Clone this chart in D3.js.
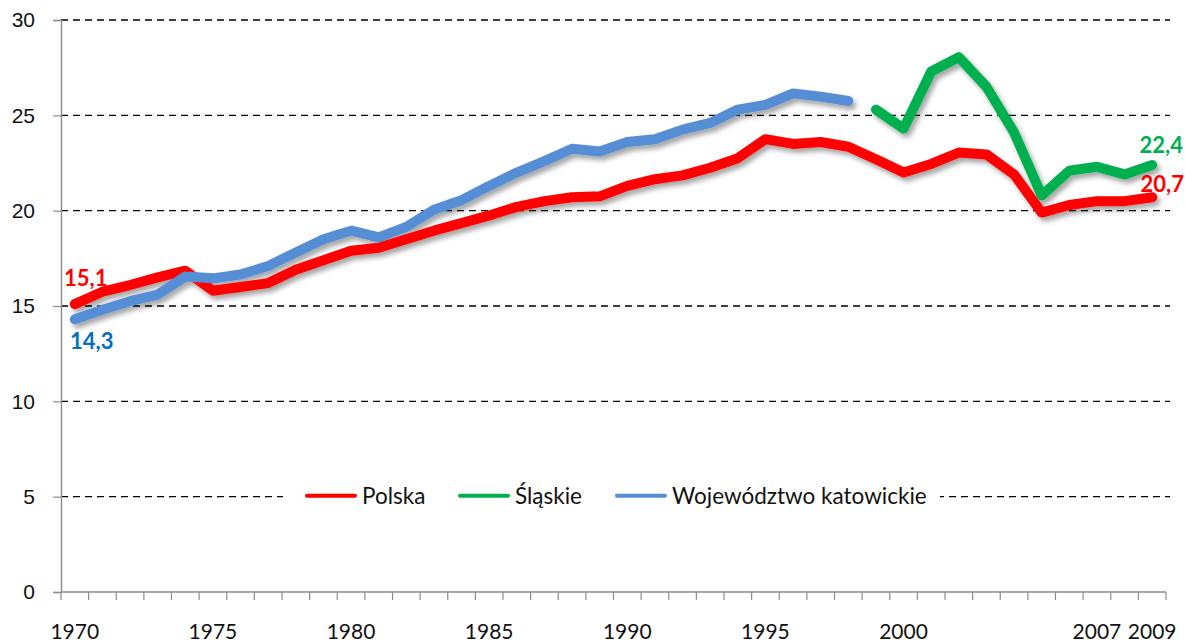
<!DOCTYPE html>
<html>
<head>
<meta charset="utf-8">
<script src="https://cdn.jsdelivr.net/npm/d3@7"></script>
<style>
  body { margin: 0; background: #fff; }
  svg { display: block; font-family: Lato, "Open Sans", sans-serif; }
</style>
</head>
<body>
<div id="container"></div>
<script>
// years on the category axis
const years = d3.range(1970, 2010);
const tickYears = [1970, 1975, 1980, 1985, 1990, 1995, 2000, 2007, 2009];
const yTicks = [0, 5, 10, 15, 20, 25, 30];

// series values (null = no data)
const polska = [15.1, 15.75, 16.1, 16.5, 16.85, 15.8, 16.0, 16.2, 16.9, 17.4,
  17.9, 18.05, 18.5, 18.95, 19.35, 19.75, 20.2, 20.5, 20.7, 20.75,
  21.3, 21.65, 21.85, 22.25, 22.75, 23.75, 23.5, 23.6, 23.35, 22.7,
  22.0, 22.45, 23.05, 22.95, 21.9, 19.9, 20.3, 20.5, 20.5, 20.7];
const slaskie = [null, null, null, null, null, null, null, null, null, null,
  null, null, null, null, null, null, null, null, null, null,
  null, null, null, null, null, null, null, null, null, 25.3,
  24.3, 27.3, 28.05, 26.5, 24.1, 20.8, 22.1, 22.3, 21.9, 22.4];
const katowickie = [14.3, 14.8, 15.25, 15.6, 16.55, 16.45, 16.65, 17.1, 17.8, 18.5,
  18.95, 18.6, 19.15, 20.05, 20.55, 21.3, 22.0, 22.6, 23.25, 23.1,
  23.6, 23.75, 24.25, 24.6, 25.3, 25.55, 26.15, 25.98, 25.75, null,
  null, null, null, null, null, null, null, null, null, null];

const series = [
  { name: "Polska", values: polska, color: "#ff0000" },
  { name: "Śląskie", values: slaskie, color: "#00b050" },
  { name: "Województwo katowickie", values: katowickie, color: "#558ed5" }
];

const width = 1185, height = 643;
const margin = { top: 20, right: 15, bottom: 51, left: 61 };

const svg = d3.select("#container").append("svg")
  .attr("width", width).attr("height", height);

// soft shadow under the thick lines
const defs = svg.append("defs");
const shadow = defs.append("filter").attr("id", "shadow")
  .attr("x", "-5%").attr("y", "-5%").attr("width", "110%").attr("height", "120%");
shadow.append("feDropShadow")
  .attr("dx", 3).attr("dy", 4).attr("stdDeviation", 2.5)
  .attr("flood-color", "#000").attr("flood-opacity", 0.35);

const x = d3.scaleBand()
  .domain(years)
  .range([margin.left, 1166]);

const y = d3.scaleLinear()
  .domain([0, 30])
  .range([592, 20]);

// dashed gridlines
svg.append("g")
  .selectAll("line")
  .data(yTicks.filter(d => d > 0))
  .join("line")
  .attr("x1", margin.left).attr("x2", 1170)
  .attr("y1", d => y(d)).attr("y2", d => y(d))
  .attr("stroke", "#000")
  .attr("stroke-width", 1.4)
  .attr("stroke-dasharray", "7,5");

// y axis
const yAxis = svg.append("g")
  .attr("transform", `translate(${margin.left},0)`)
  .call(d3.axisLeft(y).tickValues(yTicks).tickSize(8).tickPadding(18));
yAxis.select(".domain").attr("stroke", "#8c8c8c").attr("stroke-width", 1.4);
yAxis.selectAll(".tick line").attr("stroke", "#8c8c8c").attr("stroke-width", 1.2);
yAxis.selectAll("text").attr("font-size", 21).attr("fill", "#111");

// x axis: ticks between categories, labels at chosen years
const xAxis = svg.append("g")
  .attr("transform", `translate(0,${y(0)})`);
xAxis.append("line")
  .attr("x1", margin.left).attr("x2", x.range()[1])
  .attr("stroke", "#8c8c8c").attr("stroke-width", 1.4);
xAxis.selectAll(".tk")
  .data(years.concat([2010]))
  .join("line")
  .attr("class", "tk")
  .attr("x1", d => d === 2010 ? x.range()[1] : x(d))
  .attr("x2", d => d === 2010 ? x.range()[1] : x(d))
  .attr("y1", 0).attr("y2", 8)
  .attr("stroke", "#8c8c8c").attr("stroke-width", 1.2);
xAxis.selectAll(".lbl")
  .data(tickYears)
  .join("text")
  .attr("class", "lbl")
  .attr("x", d => x(d) + x.bandwidth() / 2)
  .attr("y", 47)
  .attr("text-anchor", "middle")
  .attr("font-size", 21)
  .attr("fill", "#111")
  .text(d => d);

// lines
const line = d3.line()
  .defined(d => d != null)
  .x((d, i) => x(years[i]) + x.bandwidth() / 2)
  .y(d => y(d));

svg.append("g")
  .attr("filter", "url(#shadow)")
  .selectAll("path")
  .data(series)
  .join("path")
  .attr("d", d => line(d.values))
  .attr("fill", "none")
  .attr("stroke", d => d.color)
  .attr("stroke-width", 10)
  .attr("stroke-linejoin", "round")
  .attr("stroke-linecap", "round");

// end value labels
const cx = yr => x(yr) + x.bandwidth() / 2;
const endLabels = [
  { text: "15,1", x: cx(1970) + 11, y: y(polska[0]) - 18, color: "#ff0000" },
  { text: "14,3", x: cx(1970) + 17, y: y(katowickie[0]) + 30, color: "#0070c0" },
  { text: "22,4", x: cx(2009) + 9, y: y(slaskie[39]) - 12, color: "#00b050" },
  { text: "20,7", x: cx(2009) + 10, y: y(polska[39]) - 5, color: "#ff0000" }
];
svg.append("g")
  .selectAll("text")
  .data(endLabels)
  .join("text")
  .attr("x", d => d.x).attr("y", d => d.y)
  .attr("text-anchor", "middle")
  .attr("font-size", 22)
  .attr("font-weight", "bold")
  .attr("fill", d => d.color)
  .text(d => d.text);

// legend with white box over the 5-gridline
const legend = svg.append("g");
legend.append("rect")
  .attr("x", 283).attr("y", 480).attr("width", 657).attr("height", 32)
  .attr("fill", "#fff");
const legendX = [307, 460, 617];
const items = legend.selectAll("g")
  .data(series)
  .join("g")
  .attr("transform", (d, i) => `translate(${legendX[i]},${y(5) - 1})`);
items.append("line")
  .attr("x1", 0).attr("x2", 48)
  .attr("stroke", d => d.color)
  .attr("stroke-width", 4)
  .attr("stroke-linecap", "round");
items.append("text")
  .attr("x", 55).attr("y", 8)
  .attr("font-size", 22.5)
  .attr("fill", "#111")
  .text(d => d.name);
</script>
</body>
</html>
